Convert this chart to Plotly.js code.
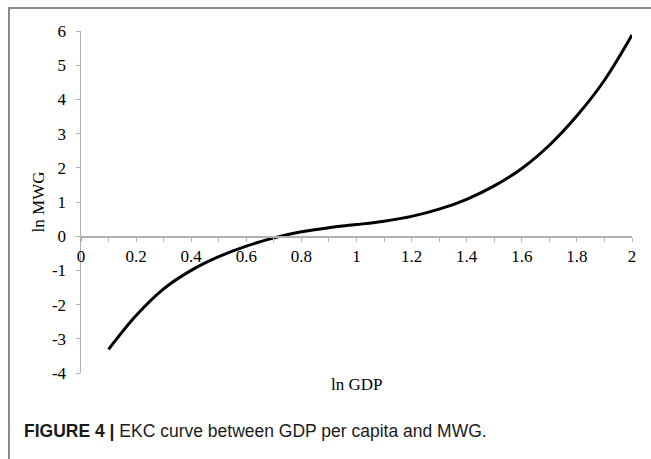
<!DOCTYPE html>
<html>
<head>
<meta charset="utf-8">
<script src="https://cdn.plot.ly/plotly-3.0.1.min.js"></script>
<style>
  html, body { margin: 0; padding: 0; background: #fff; }
  #wrap { position: relative; width: 651px; height: 459px; overflow: hidden; }
  #frame { position: absolute; left: 8px; top: 7px; width: 700px; height: 500px;
           border-left: 2px solid #8a8a8a; border-top: 2px solid #8a8a8a; }
  #chart { position: absolute; left: 0; top: 0; width: 651px; height: 459px; }
</style>
</head>
<body>
<div id="wrap">
  <div id="frame"></div>
  <div id="chart"></div>
</div>
<script>
// ln GDP values (x) and ln MWG values (y)
const lnGDP = [0.1, 0.2, 0.3, 0.4, 0.5, 0.6, 0.7, 0.8, 0.9, 1.0,
               1.1, 1.2, 1.3, 1.4, 1.5, 1.6, 1.7, 1.8, 1.9, 2.0];
const lnMWG = [-3.31, -2.32, -1.54, -1.00, -0.60, -0.29, -0.05, 0.13, 0.25, 0.34,
               0.44, 0.58, 0.79, 1.08, 1.47, 1.98, 2.66, 3.52, 4.56, 5.88];
const xTickVals = [0, 0.2, 0.4, 0.6, 0.8, 1, 1.2, 1.4, 1.6, 1.8, 2];
const xTickText = ['0', '0.2', '0.4', '0.6', '0.8', '1', '1.2', '1.4', '1.6', '1.8', '2'];
const yTickVals = [-4, -3, -2, -1, 0, 1, 2, 3, 4, 5, 6];
const yTickText = ['-4', '-3', '-2', '-1', '0', '1', '2', '3', '4', '5', '6'];
const xTitle = 'ln GDP';
const yTitle = 'ln MWG';
const captionBold = 'FIGURE 4 |';
const captionRest = ' EKC curve between GDP per capita and MWG.';

const serif = 'Liberation Serif, Times New Roman, serif';
const axisGrey = '#b0b0b0';

const trace = {
  x: lnGDP, y: lnMWG, type: 'scatter', mode: 'lines',
  line: { color: '#000', width: 3, shape: 'spline', smoothing: 1 },
  hoverinfo: 'skip', showlegend: false
};

const layout = {
  width: 651, height: 459,
  margin: { l: 81, r: 19, t: 31, b: 86 },
  paper_bgcolor: 'rgba(0,0,0,0)', plot_bgcolor: 'rgba(0,0,0,0)',
  showlegend: false,
  xaxis: {
    range: [0, 2], anchor: 'free', position: 0.4,
    tickvals: xTickVals, ticktext: xTickText,
    ticks: 'outside', ticklen: 4, tickcolor: axisGrey, tickwidth: 1,
    minor: { dtick: 0.1, tick0: 0, ticks: 'outside', ticklen: 4, tickcolor: axisGrey, tickwidth: 1, showgrid: false },
    showline: true, linecolor: axisGrey, linewidth: 1.5,
    showgrid: false, zeroline: false,
    tickfont: { family: serif, size: 17, color: '#000' }
  },
  yaxis: {
    range: [-4, 6], tickvals: yTickVals, ticktext: yTickText,
    ticks: 'outside', ticklen: 4, tickcolor: axisGrey, tickwidth: 1,
    ticklabelstandoff: 6,
    showline: true, linecolor: axisGrey, linewidth: 1.5,
    showgrid: false, zeroline: false,
    tickfont: { family: serif, size: 17, color: '#000' },
    title: { text: yTitle, font: { family: serif, size: 17, color: '#000' }, standoff: 3 }
  },
  annotations: [{
    xref: 'paper', yref: 'paper', x: 0.5, y: 0, xanchor: 'center', yanchor: 'middle',
    yshift: -11,
    text: xTitle, showarrow: false,
    font: { family: serif, size: 17, color: '#000' }
  }, {
    xref: 'paper', yref: 'paper', x: 0, y: 0, xanchor: 'left', yanchor: 'middle',
    xshift: -59, yshift: -58,
    text: '<b>' + captionBold + '</b>' + captionRest,
    showarrow: false,
    font: { family: 'Liberation Sans, Arial, sans-serif', size: 17.5, color: '#1a1a1a' }
  }]
};

Plotly.newPlot('chart', [trace], layout, { staticPlot: true, displayModeBar: false });
</script>
</body>
</html>
